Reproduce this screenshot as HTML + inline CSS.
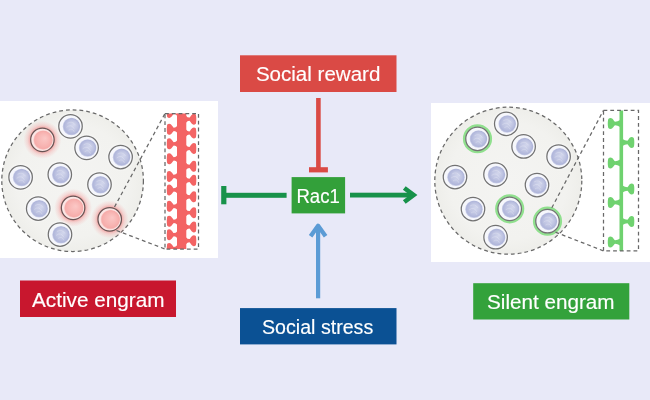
<!DOCTYPE html>
<html><head><meta charset="utf-8"><style>
html,body{margin:0;padding:0;background:#e8e9f8;}
body{width:650px;height:400px;overflow:hidden;}
svg{display:block;font-family:"Liberation Sans", sans-serif;will-change:transform;}
</style></head><body>
<svg width="650" height="400" viewBox="0 0 650 400">
<rect width="650" height="400" fill="#e8e9f8"/>
<defs>
<radialGradient id="coreB" cx="50%" cy="50%" r="50%" fx="62%" fy="40%">
 <stop offset="0" stop-color="#d2d6ec"/><stop offset="0.6" stop-color="#bfc4e2"/><stop offset="0.88" stop-color="#b0b6da"/><stop offset="1" stop-color="#ccd0ea"/>
</radialGradient>
<radialGradient id="coreR" cx="50%" cy="50%" r="50%" fx="60%" fy="40%">
 <stop offset="0" stop-color="#fbc8c6"/><stop offset="0.6" stop-color="#f8b6b4"/><stop offset="0.88" stop-color="#f6acaa"/><stop offset="1" stop-color="#fad6d4"/>
</radialGradient>
<filter id="blurG" x="-30%" y="-30%" width="160%" height="160%"><feGaussianBlur stdDeviation="0.55"/></filter>
<radialGradient id="bigC" cx="50%" cy="50%" r="50%">
 <stop offset="0" stop-color="#f4f4f2"/><stop offset="0.8" stop-color="#f2f2ef"/><stop offset="1" stop-color="#eeeeea"/>
</radialGradient>
<radialGradient id="cellB" cx="50%" cy="50%" r="50%" fx="56%" fy="54%">
 <stop offset="0" stop-color="#c2c6ea"/><stop offset="0.55" stop-color="#bfc3e8"/><stop offset="0.75" stop-color="#dcdff3"/><stop offset="0.88" stop-color="#f7f7fd"/><stop offset="1" stop-color="#eceef8"/>
</radialGradient>
<radialGradient id="cellR" cx="50%" cy="50%" r="50%" fx="55%" fy="54%">
 <stop offset="0" stop-color="#f7aaa8"/><stop offset="0.6" stop-color="#f6a8a6"/><stop offset="0.8" stop-color="#fbd3d1"/><stop offset="0.9" stop-color="#fff2f2"/><stop offset="1" stop-color="#fbe0e0"/>
</radialGradient>
<radialGradient id="glowR" cx="50%" cy="50%" r="50%">
 <stop offset="0.6" stop-color="#f26a6a" stop-opacity="0.62"/><stop offset="0.78" stop-color="#f58080" stop-opacity="0.25"/><stop offset="1" stop-color="#f89090" stop-opacity="0"/>
</radialGradient>
<radialGradient id="glowW" cx="50%" cy="50%" r="50%">
 <stop offset="0.7" stop-color="#ffffff" stop-opacity="0.8"/><stop offset="1" stop-color="#ffffff" stop-opacity="0"/>
</radialGradient>
</defs>
<rect x="0" y="101" width="218" height="157" fill="#ffffff"/>
<rect x="431" y="103" width="219" height="159" fill="#ffffff"/>
<circle cx="72.6" cy="180.7" r="70.8" fill="url(#bigC)" stroke="#686868" stroke-width="1.25" stroke-dasharray="3.8 3"/>
<circle cx="508.3" cy="180.7" r="73.5" fill="url(#bigC)" stroke="#686868" stroke-width="1.25" stroke-dasharray="3.8 3"/>
<circle cx="42.4" cy="139.8" r="19" fill="url(#glowR)"/>
<circle cx="42.4" cy="139.8" r="11.75" fill="#fbe6e5" stroke="#685454" stroke-width="1.25"/>
<circle cx="43.10" cy="140.10" r="9.9" fill="url(#coreR)"/>
<circle cx="70.5" cy="126.3" r="14.5" fill="url(#glowW)"/>
<circle cx="70.5" cy="126.3" r="11.75" fill="#f6f7fc" stroke="#727272" stroke-width="1.25"/>
<circle cx="71.50" cy="126.50" r="8.8" fill="url(#coreB)"/>
<path d="M67.50,123.30 Q72.50,120.30 75.50,125.30 M66.50,127.30 Q71.50,123.30 74.50,129.30 M68.50,130.30 Q72.50,127.30 74.50,132.30" fill="none" stroke="#ffffff" stroke-opacity="0.22" stroke-width="1"/>
<circle cx="86.6" cy="147.8" r="14.5" fill="url(#glowW)"/>
<circle cx="86.6" cy="147.8" r="11.75" fill="#f6f7fc" stroke="#727272" stroke-width="1.25"/>
<circle cx="87.60" cy="148.00" r="8.8" fill="url(#coreB)"/>
<path d="M83.60,144.80 Q88.60,141.80 91.60,146.80 M82.60,148.80 Q87.60,144.80 90.60,150.80 M84.60,151.80 Q88.60,148.80 90.60,153.80" fill="none" stroke="#ffffff" stroke-opacity="0.22" stroke-width="1"/>
<circle cx="120.6" cy="157" r="14.5" fill="url(#glowW)"/>
<circle cx="120.6" cy="157" r="11.75" fill="#f6f7fc" stroke="#727272" stroke-width="1.25"/>
<circle cx="121.60" cy="157.20" r="8.8" fill="url(#coreB)"/>
<path d="M117.60,154.00 Q122.60,151.00 125.60,156.00 M116.60,158.00 Q121.60,154.00 124.60,160.00 M118.60,161.00 Q122.60,158.00 124.60,163.00" fill="none" stroke="#ffffff" stroke-opacity="0.22" stroke-width="1"/>
<circle cx="20.6" cy="177.3" r="14.5" fill="url(#glowW)"/>
<circle cx="20.6" cy="177.3" r="11.75" fill="#f6f7fc" stroke="#727272" stroke-width="1.25"/>
<circle cx="21.60" cy="177.50" r="8.8" fill="url(#coreB)"/>
<path d="M17.60,174.30 Q22.60,171.30 25.60,176.30 M16.60,178.30 Q21.60,174.30 24.60,180.30 M18.60,181.30 Q22.60,178.30 24.60,183.30" fill="none" stroke="#ffffff" stroke-opacity="0.22" stroke-width="1"/>
<circle cx="59.8" cy="174.5" r="14.5" fill="url(#glowW)"/>
<circle cx="59.8" cy="174.5" r="11.75" fill="#f6f7fc" stroke="#727272" stroke-width="1.25"/>
<circle cx="60.80" cy="174.70" r="8.8" fill="url(#coreB)"/>
<path d="M56.80,171.50 Q61.80,168.50 64.80,173.50 M55.80,175.50 Q60.80,171.50 63.80,177.50 M57.80,178.50 Q61.80,175.50 63.80,180.50" fill="none" stroke="#ffffff" stroke-opacity="0.22" stroke-width="1"/>
<circle cx="99.5" cy="184.6" r="14.5" fill="url(#glowW)"/>
<circle cx="99.5" cy="184.6" r="11.75" fill="#f6f7fc" stroke="#727272" stroke-width="1.25"/>
<circle cx="100.50" cy="184.80" r="8.8" fill="url(#coreB)"/>
<path d="M96.50,181.60 Q101.50,178.60 104.50,183.60 M95.50,185.60 Q100.50,181.60 103.50,187.60 M97.50,188.60 Q101.50,185.60 103.50,190.60" fill="none" stroke="#ffffff" stroke-opacity="0.22" stroke-width="1"/>
<circle cx="38.2" cy="208.5" r="14.5" fill="url(#glowW)"/>
<circle cx="38.2" cy="208.5" r="11.75" fill="#f6f7fc" stroke="#727272" stroke-width="1.25"/>
<circle cx="39.20" cy="208.70" r="8.8" fill="url(#coreB)"/>
<path d="M35.20,205.50 Q40.20,202.50 43.20,207.50 M34.20,209.50 Q39.20,205.50 42.20,211.50 M36.20,212.50 Q40.20,209.50 42.20,214.50" fill="none" stroke="#ffffff" stroke-opacity="0.22" stroke-width="1"/>
<circle cx="73.1" cy="207.8" r="19" fill="url(#glowR)"/>
<circle cx="73.1" cy="207.8" r="11.75" fill="#fbe6e5" stroke="#685454" stroke-width="1.25"/>
<circle cx="73.80" cy="208.10" r="9.9" fill="url(#coreR)"/>
<circle cx="109.7" cy="219.3" r="19" fill="url(#glowR)"/>
<circle cx="109.7" cy="219.3" r="11.75" fill="#fbe6e5" stroke="#685454" stroke-width="1.25"/>
<circle cx="110.40" cy="219.60" r="9.9" fill="url(#coreR)"/>
<circle cx="60" cy="234.5" r="14.5" fill="url(#glowW)"/>
<circle cx="60" cy="234.5" r="11.75" fill="#f6f7fc" stroke="#727272" stroke-width="1.25"/>
<circle cx="61.00" cy="234.70" r="8.8" fill="url(#coreB)"/>
<path d="M57.00,231.50 Q62.00,228.50 65.00,233.50 M56.00,235.50 Q61.00,231.50 64.00,237.50 M58.00,238.50 Q62.00,235.50 64.00,240.50" fill="none" stroke="#ffffff" stroke-opacity="0.22" stroke-width="1"/>
<circle cx="477.5" cy="138.75" r="14.5" fill="url(#glowW)"/>
<circle cx="477.5" cy="138.75" r="13.1" fill="none" stroke="#90e08e" stroke-width="3.0" filter="url(#blurG)"/>
<circle cx="477.5" cy="138.75" r="11.75" fill="#f6f7fc" stroke="#727272" stroke-width="1.25"/>
<circle cx="478.50" cy="138.95" r="8.8" fill="url(#coreB)"/>
<path d="M474.50,135.75 Q479.50,132.75 482.50,137.75 M473.50,139.75 Q478.50,135.75 481.50,141.75 M475.50,142.75 Q479.50,139.75 481.50,144.75" fill="none" stroke="#ffffff" stroke-opacity="0.22" stroke-width="1"/>
<circle cx="506.25" cy="123.75" r="14.5" fill="url(#glowW)"/>
<circle cx="506.25" cy="123.75" r="11.75" fill="#f6f7fc" stroke="#727272" stroke-width="1.25"/>
<circle cx="507.25" cy="123.95" r="8.8" fill="url(#coreB)"/>
<path d="M503.25,120.75 Q508.25,117.75 511.25,122.75 M502.25,124.75 Q507.25,120.75 510.25,126.75 M504.25,127.75 Q508.25,124.75 510.25,129.75" fill="none" stroke="#ffffff" stroke-opacity="0.22" stroke-width="1"/>
<circle cx="523.6" cy="146.4" r="14.5" fill="url(#glowW)"/>
<circle cx="523.6" cy="146.4" r="11.75" fill="#f6f7fc" stroke="#727272" stroke-width="1.25"/>
<circle cx="524.60" cy="146.60" r="8.8" fill="url(#coreB)"/>
<path d="M520.60,143.40 Q525.60,140.40 528.60,145.40 M519.60,147.40 Q524.60,143.40 527.60,149.40 M521.60,150.40 Q525.60,147.40 527.60,152.40" fill="none" stroke="#ffffff" stroke-opacity="0.22" stroke-width="1"/>
<circle cx="558.6" cy="156.5" r="14.5" fill="url(#glowW)"/>
<circle cx="558.6" cy="156.5" r="11.75" fill="#f6f7fc" stroke="#727272" stroke-width="1.25"/>
<circle cx="559.60" cy="156.70" r="8.8" fill="url(#coreB)"/>
<path d="M555.60,153.50 Q560.60,150.50 563.60,155.50 M554.60,157.50 Q559.60,153.50 562.60,159.50 M556.60,160.50 Q560.60,157.50 562.60,162.50" fill="none" stroke="#ffffff" stroke-opacity="0.22" stroke-width="1"/>
<circle cx="455" cy="177" r="14.5" fill="url(#glowW)"/>
<circle cx="455" cy="177" r="11.75" fill="#f6f7fc" stroke="#727272" stroke-width="1.25"/>
<circle cx="456.00" cy="177.20" r="8.8" fill="url(#coreB)"/>
<path d="M452.00,174.00 Q457.00,171.00 460.00,176.00 M451.00,178.00 Q456.00,174.00 459.00,180.00 M453.00,181.00 Q457.00,178.00 459.00,183.00" fill="none" stroke="#ffffff" stroke-opacity="0.22" stroke-width="1"/>
<circle cx="495.5" cy="174.5" r="14.5" fill="url(#glowW)"/>
<circle cx="495.5" cy="174.5" r="11.75" fill="#f6f7fc" stroke="#727272" stroke-width="1.25"/>
<circle cx="496.50" cy="174.70" r="8.8" fill="url(#coreB)"/>
<path d="M492.50,171.50 Q497.50,168.50 500.50,173.50 M491.50,175.50 Q496.50,171.50 499.50,177.50 M493.50,178.50 Q497.50,175.50 499.50,180.50" fill="none" stroke="#ffffff" stroke-opacity="0.22" stroke-width="1"/>
<circle cx="537" cy="185" r="14.5" fill="url(#glowW)"/>
<circle cx="537" cy="185" r="11.75" fill="#f6f7fc" stroke="#727272" stroke-width="1.25"/>
<circle cx="538.00" cy="185.20" r="8.8" fill="url(#coreB)"/>
<path d="M534.00,182.00 Q539.00,179.00 542.00,184.00 M533.00,186.00 Q538.00,182.00 541.00,188.00 M535.00,189.00 Q539.00,186.00 541.00,191.00" fill="none" stroke="#ffffff" stroke-opacity="0.22" stroke-width="1"/>
<circle cx="473" cy="209" r="14.5" fill="url(#glowW)"/>
<circle cx="473" cy="209" r="11.75" fill="#f6f7fc" stroke="#727272" stroke-width="1.25"/>
<circle cx="474.00" cy="209.20" r="8.8" fill="url(#coreB)"/>
<path d="M470.00,206.00 Q475.00,203.00 478.00,208.00 M469.00,210.00 Q474.00,206.00 477.00,212.00 M471.00,213.00 Q475.00,210.00 477.00,215.00" fill="none" stroke="#ffffff" stroke-opacity="0.22" stroke-width="1"/>
<circle cx="509.7" cy="208.8" r="14.5" fill="url(#glowW)"/>
<circle cx="509.7" cy="208.8" r="13.1" fill="none" stroke="#90e08e" stroke-width="3.0" filter="url(#blurG)"/>
<circle cx="509.7" cy="208.8" r="11.75" fill="#f6f7fc" stroke="#727272" stroke-width="1.25"/>
<circle cx="510.70" cy="209.00" r="8.8" fill="url(#coreB)"/>
<path d="M506.70,205.80 Q511.70,202.80 514.70,207.80 M505.70,209.80 Q510.70,205.80 513.70,211.80 M507.70,212.80 Q511.70,209.80 513.70,214.80" fill="none" stroke="#ffffff" stroke-opacity="0.22" stroke-width="1"/>
<circle cx="547.5" cy="221.2" r="14.5" fill="url(#glowW)"/>
<circle cx="547.5" cy="221.2" r="13.1" fill="none" stroke="#90e08e" stroke-width="3.0" filter="url(#blurG)"/>
<circle cx="547.5" cy="221.2" r="11.75" fill="#f6f7fc" stroke="#727272" stroke-width="1.25"/>
<circle cx="548.50" cy="221.40" r="8.8" fill="url(#coreB)"/>
<path d="M544.50,218.20 Q549.50,215.20 552.50,220.20 M543.50,222.20 Q548.50,218.20 551.50,224.20 M545.50,225.20 Q549.50,222.20 551.50,227.20" fill="none" stroke="#ffffff" stroke-opacity="0.22" stroke-width="1"/>
<circle cx="495.6" cy="237.2" r="14.5" fill="url(#glowW)"/>
<circle cx="495.6" cy="237.2" r="11.75" fill="#f6f7fc" stroke="#727272" stroke-width="1.25"/>
<circle cx="496.60" cy="237.40" r="8.8" fill="url(#coreB)"/>
<path d="M492.60,234.20 Q497.60,231.20 500.60,236.20 M491.60,238.20 Q496.60,234.20 499.60,240.20 M493.60,241.20 Q497.60,238.20 499.60,243.20" fill="none" stroke="#ffffff" stroke-opacity="0.22" stroke-width="1"/>
<path d="M114.5,207 L165,113.5 M116.5,230.5 L165,249" stroke="#686868" stroke-width="1.25" stroke-dasharray="3.8 3" fill="none"/>
<path d="M551.8,207.8 L603.5,110.3 M555.5,232.2 L603.5,250.9" stroke="#686868" stroke-width="1.25" stroke-dasharray="3.8 3" fill="none"/>
<clipPath id="clipL"><rect x="165" y="113.5" width="33.5" height="135.5"/></clipPath>
<clipPath id="clipR"><rect x="603.5" y="110.3" width="35" height="140.6"/></clipPath>
<g clip-path="url(#clipL)">
<rect x="177" y="110" width="9.3" height="145" fill="#f36464"/>
<path d="M 177.60,108.70 Q 175.75,110.90 173.89,110.90 C 172.89,110.70 171.60,107.00 169.20,107.00 C 167.66,107.00 167.00,107.88 167.00,109.20 C 166.70,110.85 166.70,114.15 167.00,115.80 C 167.00,117.12 167.66,118.00 169.20,118.00 C 171.60,118.00 172.89,114.30 173.89,114.10 Q 175.75,114.10 177.60,116.30 Z" fill="#f36464"/>
<path d="M 177.60,125.50 Q 175.75,127.70 173.89,127.70 C 172.89,127.50 171.60,123.80 169.20,123.80 C 167.66,123.80 167.00,124.68 167.00,126.00 C 166.70,127.65 166.70,130.95 167.00,132.60 C 167.00,133.92 167.66,134.80 169.20,134.80 C 171.60,134.80 172.89,131.10 173.89,130.90 Q 175.75,130.90 177.60,133.10 Z" fill="#f36464"/>
<path d="M 177.60,140.00 Q 175.75,142.20 173.89,142.20 C 172.89,142.00 171.60,138.30 169.20,138.30 C 167.66,138.30 167.00,139.18 167.00,140.50 C 166.70,142.15 166.70,145.45 167.00,147.10 C 167.00,148.42 167.66,149.30 169.20,149.30 C 171.60,149.30 172.89,145.60 173.89,145.40 Q 175.75,145.40 177.60,147.60 Z" fill="#f36464"/>
<path d="M 177.60,155.00 Q 175.75,157.20 173.89,157.20 C 172.89,157.00 171.60,153.30 169.20,153.30 C 167.66,153.30 167.00,154.18 167.00,155.50 C 166.70,157.15 166.70,160.45 167.00,162.10 C 167.00,163.42 167.66,164.30 169.20,164.30 C 171.60,164.30 172.89,160.60 173.89,160.40 Q 175.75,160.40 177.60,162.60 Z" fill="#f36464"/>
<path d="M 177.60,172.60 Q 175.75,174.80 173.89,174.80 C 172.89,174.60 171.60,170.90 169.20,170.90 C 167.66,170.90 167.00,171.78 167.00,173.10 C 166.70,174.75 166.70,178.05 167.00,179.70 C 167.00,181.02 167.66,181.90 169.20,181.90 C 171.60,181.90 172.89,178.20 173.89,178.00 Q 175.75,178.00 177.60,180.20 Z" fill="#f36464"/>
<path d="M 177.60,186.10 Q 175.75,188.30 173.89,188.30 C 172.89,188.10 171.60,184.40 169.20,184.40 C 167.66,184.40 167.00,185.28 167.00,186.60 C 166.70,188.25 166.70,191.55 167.00,193.20 C 167.00,194.52 167.66,195.40 169.20,195.40 C 171.60,195.40 172.89,191.70 173.89,191.50 Q 175.75,191.50 177.60,193.70 Z" fill="#f36464"/>
<path d="M 177.60,202.50 Q 175.75,204.70 173.89,204.70 C 172.89,204.50 171.60,200.80 169.20,200.80 C 167.66,200.80 167.00,201.68 167.00,203.00 C 166.70,204.65 166.70,207.95 167.00,209.60 C 167.00,210.92 167.66,211.80 169.20,211.80 C 171.60,211.80 172.89,208.10 173.89,207.90 Q 175.75,207.90 177.60,210.10 Z" fill="#f36464"/>
<path d="M 177.60,217.50 Q 175.75,219.70 173.89,219.70 C 172.89,219.50 171.60,215.80 169.20,215.80 C 167.66,215.80 167.00,216.68 167.00,218.00 C 166.70,219.65 166.70,222.95 167.00,224.60 C 167.00,225.92 167.66,226.80 169.20,226.80 C 171.60,226.80 172.89,223.10 173.89,222.90 Q 175.75,222.90 177.60,225.10 Z" fill="#f36464"/>
<path d="M 177.60,230.90 Q 175.75,233.10 173.89,233.10 C 172.89,232.90 171.60,229.20 169.20,229.20 C 167.66,229.20 167.00,230.08 167.00,231.40 C 166.70,233.05 166.70,236.35 167.00,238.00 C 167.00,239.32 167.66,240.20 169.20,240.20 C 171.60,240.20 172.89,236.50 173.89,236.30 Q 175.75,236.30 177.60,238.50 Z" fill="#f36464"/>
<path d="M 177.60,244.70 Q 175.75,246.90 173.89,246.90 C 172.89,246.70 171.60,243.00 169.20,243.00 C 167.66,243.00 167.00,243.88 167.00,245.20 C 166.70,246.85 166.70,250.15 167.00,251.80 C 167.00,253.12 167.66,254.00 169.20,254.00 C 171.60,254.00 172.89,250.30 173.89,250.10 Q 175.75,250.10 177.60,252.30 Z" fill="#f36464"/>
<path d="M 185.70,115.40 Q 187.52,117.60 189.34,117.60 C 190.34,117.40 191.50,113.70 193.90,113.70 C 195.44,113.70 196.10,114.58 196.10,115.90 C 196.40,117.55 196.40,120.85 196.10,122.50 C 196.10,123.82 195.44,124.70 193.90,124.70 C 191.50,124.70 190.34,121.00 189.34,120.80 Q 187.52,120.80 185.70,123.00 Z" fill="#f36464"/>
<path d="M 185.70,129.20 Q 187.52,131.40 189.34,131.40 C 190.34,131.20 191.50,127.50 193.90,127.50 C 195.44,127.50 196.10,128.38 196.10,129.70 C 196.40,131.35 196.40,134.65 196.10,136.30 C 196.10,137.62 195.44,138.50 193.90,138.50 C 191.50,138.50 190.34,134.80 189.34,134.60 Q 187.52,134.60 185.70,136.80 Z" fill="#f36464"/>
<path d="M 185.70,144.70 Q 187.52,146.90 189.34,146.90 C 190.34,146.70 191.50,143.00 193.90,143.00 C 195.44,143.00 196.10,143.88 196.10,145.20 C 196.40,146.85 196.40,150.15 196.10,151.80 C 196.10,153.12 195.44,154.00 193.90,154.00 C 191.50,154.00 190.34,150.30 189.34,150.10 Q 187.52,150.10 185.70,152.30 Z" fill="#f36464"/>
<path d="M 185.70,162.50 Q 187.52,164.70 189.34,164.70 C 190.34,164.50 191.50,160.80 193.90,160.80 C 195.44,160.80 196.10,161.68 196.10,163.00 C 196.40,164.65 196.40,167.95 196.10,169.60 C 196.10,170.92 195.44,171.80 193.90,171.80 C 191.50,171.80 190.34,168.10 189.34,167.90 Q 187.52,167.90 185.70,170.10 Z" fill="#f36464"/>
<path d="M 185.70,176.50 Q 187.52,178.70 189.34,178.70 C 190.34,178.50 191.50,174.80 193.90,174.80 C 195.44,174.80 196.10,175.68 196.10,177.00 C 196.40,178.65 196.40,181.95 196.10,183.60 C 196.10,184.92 195.44,185.80 193.90,185.80 C 191.50,185.80 190.34,182.10 189.34,181.90 Q 187.52,181.90 185.70,184.10 Z" fill="#f36464"/>
<path d="M 185.70,193.00 Q 187.52,195.20 189.34,195.20 C 190.34,195.00 191.50,191.30 193.90,191.30 C 195.44,191.30 196.10,192.18 196.10,193.50 C 196.40,195.15 196.40,198.45 196.10,200.10 C 196.10,201.42 195.44,202.30 193.90,202.30 C 191.50,202.30 190.34,198.60 189.34,198.40 Q 187.52,198.40 185.70,200.60 Z" fill="#f36464"/>
<path d="M 185.70,208.90 Q 187.52,211.10 189.34,211.10 C 190.34,210.90 191.50,207.20 193.90,207.20 C 195.44,207.20 196.10,208.08 196.10,209.40 C 196.40,211.05 196.40,214.35 196.10,216.00 C 196.10,217.32 195.44,218.20 193.90,218.20 C 191.50,218.20 190.34,214.50 189.34,214.30 Q 187.52,214.30 185.70,216.50 Z" fill="#f36464"/>
<path d="M 185.70,223.20 Q 187.52,225.40 189.34,225.40 C 190.34,225.20 191.50,221.50 193.90,221.50 C 195.44,221.50 196.10,222.38 196.10,223.70 C 196.40,225.35 196.40,228.65 196.10,230.30 C 196.10,231.62 195.44,232.50 193.90,232.50 C 191.50,232.50 190.34,228.80 189.34,228.60 Q 187.52,228.60 185.70,230.80 Z" fill="#f36464"/>
<path d="M 185.70,236.90 Q 187.52,239.10 189.34,239.10 C 190.34,238.90 191.50,235.20 193.90,235.20 C 195.44,235.20 196.10,236.08 196.10,237.40 C 196.40,239.05 196.40,242.35 196.10,244.00 C 196.10,245.32 195.44,246.20 193.90,246.20 C 191.50,246.20 190.34,242.50 189.34,242.30 Q 187.52,242.30 185.70,244.50 Z" fill="#f36464"/>
</g>
<rect x="165" y="113.5" width="33.5" height="135.5" fill="none" stroke="#686868" stroke-width="1.25" stroke-dasharray="3.8 3"/>
<g clip-path="url(#clipR)">
<rect x="619.5" y="110.3" width="3.6" height="141" fill="#6fd26f"/>
<path d="M 620.10,120.00 Q 617.56,121.70 615.02,121.70 C 614.02,121.50 612.90,118.00 610.50,118.00 C 608.75,118.00 608.00,119.00 608.00,120.50 C 607.70,121.85 607.70,125.15 608.00,126.50 C 608.00,128.00 608.75,129.00 610.50,129.00 C 612.90,129.00 614.02,125.50 615.02,125.30 Q 617.56,125.30 620.10,127.00 Z" fill="#6fd26f"/>
<path d="M 620.10,159.50 Q 617.56,161.20 615.02,161.20 C 614.02,161.00 612.90,157.50 610.50,157.50 C 608.75,157.50 608.00,158.50 608.00,160.00 C 607.70,161.35 607.70,164.65 608.00,166.00 C 608.00,167.50 608.75,168.50 610.50,168.50 C 612.90,168.50 614.02,165.00 615.02,164.80 Q 617.56,164.80 620.10,166.50 Z" fill="#6fd26f"/>
<path d="M 620.10,199.00 Q 617.56,200.70 615.02,200.70 C 614.02,200.50 612.90,197.00 610.50,197.00 C 608.75,197.00 608.00,198.00 608.00,199.50 C 607.70,200.85 607.70,204.15 608.00,205.50 C 608.00,207.00 608.75,208.00 610.50,208.00 C 612.90,208.00 614.02,204.50 615.02,204.30 Q 617.56,204.30 620.10,206.00 Z" fill="#6fd26f"/>
<path d="M 620.10,238.50 Q 617.56,240.20 615.02,240.20 C 614.02,240.00 612.90,236.50 610.50,236.50 C 608.75,236.50 608.00,237.50 608.00,239.00 C 607.70,240.35 607.70,243.65 608.00,245.00 C 608.00,246.50 608.75,247.50 610.50,247.50 C 612.90,247.50 614.02,244.00 615.02,243.80 Q 617.56,243.80 620.10,245.50 Z" fill="#6fd26f"/>
<path d="M 622.50,139.00 Q 624.94,140.70 627.37,140.70 C 628.37,140.50 629.20,137.00 631.60,137.00 C 633.35,137.00 634.10,138.00 634.10,139.50 C 634.40,140.85 634.40,144.15 634.10,145.50 C 634.10,147.00 633.35,148.00 631.60,148.00 C 629.20,148.00 628.37,144.50 627.37,144.30 Q 624.94,144.30 622.50,146.00 Z" fill="#6fd26f"/>
<path d="M 622.50,185.50 Q 624.94,187.20 627.37,187.20 C 628.37,187.00 629.20,183.50 631.60,183.50 C 633.35,183.50 634.10,184.50 634.10,186.00 C 634.40,187.35 634.40,190.65 634.10,192.00 C 634.10,193.50 633.35,194.50 631.60,194.50 C 629.20,194.50 628.37,191.00 627.37,190.80 Q 624.94,190.80 622.50,192.50 Z" fill="#6fd26f"/>
<path d="M 622.50,218.00 Q 624.94,219.70 627.37,219.70 C 628.37,219.50 629.20,216.00 631.60,216.00 C 633.35,216.00 634.10,217.00 634.10,218.50 C 634.40,219.85 634.40,223.15 634.10,224.50 C 634.10,226.00 633.35,227.00 631.60,227.00 C 629.20,227.00 628.37,223.50 627.37,223.30 Q 624.94,223.30 622.50,225.00 Z" fill="#6fd26f"/>
</g>
<rect x="603.5" y="110.3" width="35" height="140.6" fill="none" stroke="#686868" stroke-width="1.25" stroke-dasharray="3.8 3"/>
<rect x="240" y="55.3" width="156.5" height="36.7" fill="#da4a45"/><text x="255.9" y="81.3" font-size="20" fill="#ffffff" stroke="#ffffff" stroke-width="0.15" textLength="124.5" lengthAdjust="spacingAndGlyphs">Social reward</text>
<rect x="240" y="308.1" width="156.5" height="36.3" fill="#0b5194"/><text x="262" y="334" font-size="20" fill="#ffffff" stroke="#ffffff" stroke-width="0.15" textLength="111.2" lengthAdjust="spacingAndGlyphs">Social stress</text>
<rect x="20" y="280.5" width="156" height="36.5" fill="#c8172e"/><text x="32" y="306.8" font-size="20" fill="#ffffff" stroke="#ffffff" stroke-width="0.15" textLength="132.6" lengthAdjust="spacingAndGlyphs">Active engram</text>
<rect x="473.2" y="283.2" width="156.1" height="36.3" fill="#33a23b"/><text x="487" y="309.3" font-size="20" fill="#ffffff" stroke="#ffffff" stroke-width="0.15" textLength="127.6" lengthAdjust="spacingAndGlyphs">Silent engram</text>
<rect x="291.6" y="177.1" width="53.5" height="36.3" fill="#33a03a"/><text x="296.4" y="202.8" font-size="19.5" fill="#ffffff" stroke="#ffffff" stroke-width="0.15" textLength="43.4" lengthAdjust="spacingAndGlyphs">Rac1</text>
<rect x="316.1" y="98" width="4.6" height="71" fill="#da4a45"/>
<rect x="309" y="167.2" width="18.9" height="5.2" fill="#da4a45"/>
<rect x="226" y="192.8" width="60.6" height="5" fill="#17924a"/>
<rect x="221.2" y="186" width="5.2" height="18.3" fill="#17924a"/>
<rect x="350" y="192.7" width="62" height="4.8" fill="#17924a"/>
<path d="M404.3,188 L413.6,195 L404.3,202" fill="none" stroke="#17924a" stroke-width="4.6" stroke-linecap="butt" stroke-linejoin="miter"/>
<rect x="316" y="227" width="4.2" height="71.3" fill="#5b9bd5"/>
<path d="M310.6,236.3 L318.1,225.8 L325.6,236.3" fill="none" stroke="#5b9bd5" stroke-width="4.3" stroke-linecap="butt" stroke-linejoin="round"/>
</svg>
</body></html>
